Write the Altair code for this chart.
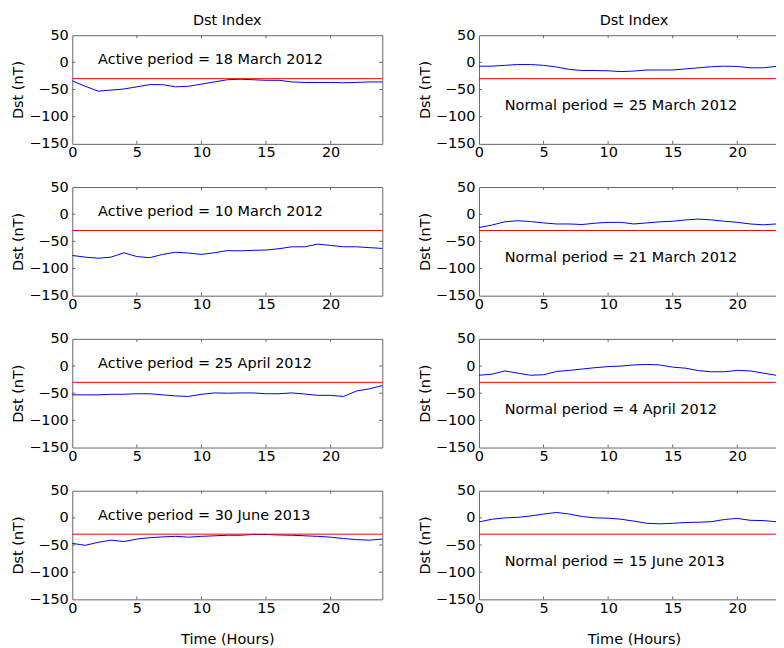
import altair as alt
import pandas as pd

hours = list(range(25))

# Active periods (left column)
dst_18mar2012 = [-34, -44, -53, -51, -49, -45, -41, -41, -45, -44, -40, -36, -32, -31, -32, -33, -33, -36, -37, -37, -37, -37.5, -37, -36, -36]
dst_10mar2012 = [-76, -79, -81, -79, -71, -78, -80, -74, -70, -71.5, -74, -71, -67, -67.5, -66.5, -66, -63.5, -60, -60, -55, -57.5, -60, -60, -61.5, -63]
dst_25apr2012 = [-53, -53, -53, -52, -52, -51, -51, -53, -55, -56, -52, -49.5, -50, -49.5, -49.5, -51, -51, -49.5, -51.5, -54, -54, -56, -46, -42, -36]
dst_30jun2013 = [-47, -50.5, -45, -41, -43.5, -39, -36.5, -35, -34, -35.5, -34, -33, -32, -32, -30.5, -30.5, -31.5, -32, -33, -34, -35.5, -38, -40, -41, -39]

# Normal periods (right column)
dst_25mar2012 = [-7, -7, -5.5, -4, -4, -5.5, -8.5, -13, -15, -15, -15.5, -17, -16, -14, -14, -14, -12, -10, -8, -7, -7.5, -10, -10, -7.5, -7]
dst_21mar2012 = [-24.5, -20, -14, -12, -13.5, -16, -18, -18, -19, -16.5, -15, -15, -18, -16, -14, -13, -10.5, -9, -10.5, -13, -15, -18, -19.5, -18, -15]
dst_04apr2012 = [-17, -15, -9, -13, -17, -16, -10, -8, -5.5, -3, -1, 0, 2, 3, 2, -2, -4, -8.5, -10.5, -10.5, -8, -9, -13, -17, -21]
dst_15jun2013 = [-7.5, -2.5, 0, 1, 3.5, 7, 10, 7, 2.5, 0, -0.5, -2.5, -6, -10, -11, -10, -8.5, -8, -7, -3, -1, -4.5, -5, -7, -8]

active_labels = ["Active period = 18 March 2012", "Active period = 10 March 2012",
                 "Active period = 25 April 2012", "Active period = 30 June 2013"]
normal_labels = ["Normal period = 25 March 2012", "Normal period = 21 March 2012",
                 "Normal period = 4 April 2012", "Normal period = 15 June 2013"]
active_series = [dst_18mar2012, dst_10mar2012, dst_25apr2012, dst_30jun2013]
normal_series = [dst_25mar2012, dst_21mar2012, dst_04apr2012, dst_15jun2013]

threshold = -30
x_ticks = [0, 5, 10, 15, 20]
y_ticks = [50, 0, -50, -100, -150]
x_inner_ticks = [5, 10, 15, 20]
y_inner_ticks = [0, -50, -100]

W, H = 311, 109
FONT = "DejaVu Sans"
FS = 14.5
FRAME = "#666666"
TL = 3


def panel(label, values, label_y, top, bottom):
    df = pd.DataFrame({"hour": hours, "dst": values})
    xscale = alt.Scale(domain=[0, 24], nice=False, zero=False)
    yscale = alt.Scale(domain=[-150, 50], nice=False, zero=False)
    xaxis = alt.Axis(values=x_ticks, ticks=False, tickSize=0, domain=False, grid=False,
                     labelFlush=False, labelPadding=2, titlePadding=17.5)
    yaxis = alt.Axis(values=y_ticks, ticks=False, tickSize=0, domain=False, grid=False,
                     labelFlush=False, labelPadding=4, titlePadding=3)
    xtitle = "Time (Hours)" if bottom else None
    X = lambda: alt.X("hour:Q", scale=xscale, axis=xaxis, title=xtitle)
    Y = lambda: alt.Y("dst:Q", scale=yscale, axis=yaxis, title="Dst (nT)")

    line = alt.Chart(df).mark_line(color="#0000ff", strokeWidth=1).encode(x=X(), y=Y())
    one = pd.DataFrame({"label": [label], "hour": [2], "dst": [label_y], "thr": [threshold]})
    rule = alt.Chart(one).mark_rule(color="#ff0000", strokeWidth=1).encode(
        y=alt.Y("thr:Q", scale=yscale, axis=yaxis, title="Dst (nT)"))
    txt = alt.Chart(one).mark_text(align="left", baseline="middle", font=FONT,
                                   fontSize=FS, color="#000000").encode(
        x=X(), y=Y(), text="label:N")
    xt = pd.DataFrame({"hour": x_inner_ticks})
    yt = pd.DataFrame({"dst": y_inner_ticks})
    top_t = alt.Chart(xt).mark_rule(color=FRAME).encode(
        x=X(), y=alt.value(0), y2=alt.value(TL))
    bot_t = alt.Chart(xt).mark_rule(color=FRAME).encode(
        x=X(), y=alt.value(H - TL), y2=alt.value(H))
    left_t = alt.Chart(yt).mark_rule(color=FRAME).encode(
        y=Y(), x=alt.value(0), x2=alt.value(TL))
    right_t = alt.Chart(yt).mark_rule(color=FRAME).encode(
        y=Y(), x=alt.value(W - TL), x2=alt.value(W))
    ch = alt.layer(line, rule, txt, top_t, bot_t, left_t, right_t).properties(
        width=W, height=H)
    if top:
        ch = ch.properties(title=alt.TitleParams("Dst Index", font=FONT, fontSize=FS,
                                                 fontWeight="normal", color="#000000",
                                                 offset=-1))
    return ch


cells = []
for i in range(4):
    cells.append(panel(active_labels[i], active_series[i], 4, i == 0, i == 3))
    cells.append(panel(normal_labels[i], normal_series[i], -81, i == 0, i == 3))

chart = alt.concat(*cells, columns=2, spacing={"row": 43.33, "column": 97},
                   bounds="flush").configure_view(
    stroke=FRAME, strokeWidth=1
).configure_axis(
    labelFont=FONT, labelFontSize=FS, labelColor="#000000",
    titleFont=FONT, titleFontSize=FS, titleColor="#000000", titleFontWeight="normal"
).properties(padding={"left": 1.5, "top": 3.25, "right": -16, "bottom": 2},
             background="white")

chart.save("out.html", embed_options={"renderer": "svg", "actions": False})
